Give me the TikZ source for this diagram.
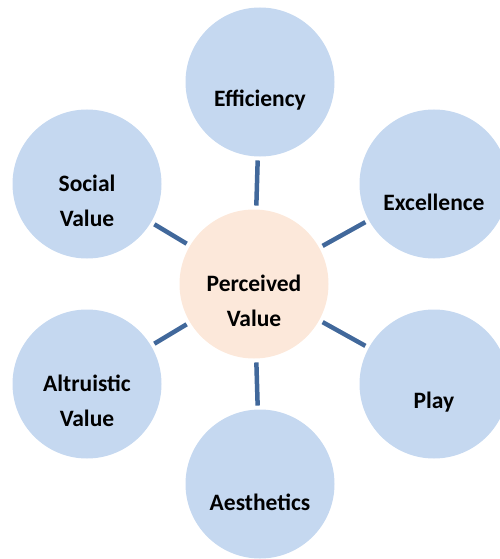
\documentclass[tikz,border=0pt]{standalone}
\usepackage{fontspec}
\setmainfont{Carlito}
\begin{document}
\definecolor{outerfill}{RGB}{197,216,240}
\definecolor{hubfill}{RGB}{252,232,218}
\definecolor{spoke}{RGB}{65,104,155}
\begin{tikzpicture}[x=1pt,y=-1pt,
  bubble/.style={circle,minimum size=149pt,inner sep=0pt,outer sep=0pt,draw=none},
  outer/.style={bubble,fill=outerfill},
  hub/.style={bubble,fill=hubfill},
  caption/.style={align=center,inner sep=0pt,font=\fontsize{23.5}{35}\selectfont\bfseries},
  link/.style={draw=spoke,line width=4.5pt,shorten <=4pt,shorten >=4pt}]
\useasboundingbox (0,0) rectangle (499,559);
% hub and surrounding circles
\node[hub]   (pv)  at (254,284) {};
\node[outer] (eff) at (260,82)  {};
\node[outer] (soc) at (87,184)  {};
\node[outer] (exc) at (434,184) {};
\node[outer] (alt) at (87,384)  {};
\node[outer] (ply) at (434,384) {};
\node[outer] (aes) at (260,484) {};
% spokes
\draw[link] (pv) -- (eff);
\draw[link] (pv) -- (soc);
\draw[link] (pv) -- (exc);
\draw[link] (pv) -- (alt);
\draw[link] (pv) -- (ply);
\draw[link] (pv) -- (aes);
% captions, set a little below each circle's centre
\node[caption] (tpv)  at ([yshift=-17pt]pv.center)  {Perceived\\Value};
\node[caption] (teff) at ([yshift=-18pt]eff.center) {Efficiency};
\node[caption] (tsoc) at ([yshift=-17pt]soc.center) {Social\\Value};
\node[caption] (texc) at ([yshift=-18pt]exc.center) {Excellence};
\node[caption] (talt) at ([yshift=-17pt]alt.center) {Altruistic\\Value};
\node[caption] (tply) at ([yshift=-18pt]ply.center) {Play};
\node[caption] (taes) at ([yshift=-18pt]aes.center) {Aesthetics};
\end{tikzpicture}
\end{document}
